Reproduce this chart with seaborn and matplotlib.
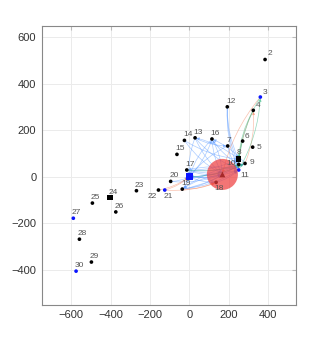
import matplotlib
matplotlib.use("Agg")
import matplotlib.pyplot as plt
import seaborn as sns
import pandas as pd

# node positions (0 = unlabeled hub square at the origin)
node_ids = list(range(0, 31))
node_x = [0, 168, 385, 361, 325, 322, 271, 195, 251, 283, 251, 251, 193, 29, -25,
          -63, 115, -13, 136, -36, -95, -125, -157, -269, -403, -493, -374, -590,
          -559, -498, -576]
node_y = [0, 10, 503, 342, 285, 127, 153, 132, 75, 57, 53, 29, 300, 167, 156,
          96, 162, 29, -24, -53, -20, -57, -57, -60, -90, -113, -151, -178,
          -268, -366, -405]
node_kind = ["hub", "center", "dot", "blue", "dot", "dot", "dot", "dot", "square",
             "dot", "dot", "blue", "dot", "dot", "dot", "dot", "dot", "dot", "dot",
             "dot", "dot", "blue", "dot", "dot", "square", "dot", "dot", "blue",
             "dot", "dot", "blue"]

# flows between nodes
blue_edges = [(12, 8), (12, 11), (12, 10), (13, 1), (13, 11), (13, 7), (14, 8), (14, 1),
              (16, 10), (16, 1), (16, 0), (7, 0), (7, 11), (0, 11), (0, 9), (0, 10),
              (0, 1), (17, 11), (17, 1), (17, 8), (19, 1), (19, 11), (19, 0), (1, 19),
              (20, 0), (20, 1), (18, 0), (0, 18), (10, 19), (11, 17), (8, 13), (9, 16),
              (1, 16), (13, 0), (0, 16), (18, 11), (19, 10), (17, 9)]
orange_edges = [(3, 1), (4, 11), (21, 18), (21, 0), (19, 18), (22, 0), (9, 4)]
green_edges = [(3, 10), (4, 8), (6, 11), (0, 9), (11, 3), (17, 10)]

nodes = pd.DataFrame({"id": node_ids, "x": node_x, "y": node_y, "kind": node_kind})

sns.set_style("white")
plt.rcParams["font.family"] = ["Liberation Sans", "DejaVu Sans"]

fig = plt.figure(figsize=(3.27, 3.43), dpi=100)
ax = fig.add_axes([0.128, 0.111, 0.777, 0.814])

pos = {i: (x, y) for i, x, y in zip(node_ids, node_x, node_y)}
for edges, col in [(blue_edges, "#5b9bff"), (orange_edges, "#f4845f"), (green_edges, "#2cb67d")]:
    for a, b in edges:
        ax.annotate("", xy=pos[b], xytext=pos[a],
                    arrowprops=dict(arrowstyle="-|>", color=col, lw=0.5, alpha=0.5,
                                    mutation_scale=4, shrinkA=1, shrinkB=1,
                                    connectionstyle="arc3,rad=0.12"), zorder=2)

sns.scatterplot(data=nodes, x="x", y="y", hue="kind", style="kind", size="kind",
                palette={"dot": "black", "blue": "#0a14ff", "square": "black",
                         "hub": "#0a14ff", "center": "black"},
                markers={"dot": "o", "blue": "o", "square": "s", "hub": "s", "center": "^"},
                sizes={"dot": 7, "blue": 7, "square": 16, "hub": 22, "center": 18},
                edgecolor="none", legend=False, ax=ax, zorder=3)

# big circle around the center node
sns.scatterplot(data=nodes[nodes["kind"] == "center"], x="x", y="y", s=500,
                color="#ee3b3b", alpha=0.7, edgecolor="none", legend=False,
                ax=ax, zorder=4)

label_style = {2: (2, 2, "left", "bottom"), 5: (2.5, 0, "left", "center"),
               9: (3, 0.5, "left", "center"), 10: (-2, 1, "right", "center"),
               11: (1.5, -1.5, "left", "top"), 18: (-1, -2, "left", "top"),
               21: (-1, -2, "left", "top"), 22: (-1, -2, "right", "top"),
               8: (-1.5, 2.5, "left", "bottom"), 6: (1.5, 1, "left", "bottom"),
               3: (1.5, 1, "left", "bottom"), 4: (1.5, 1, "left", "bottom")}
for i, x, y in zip(node_ids, node_x, node_y):
    if i in (0, 1):
        continue
    dx, dy, ha, va = label_style.get(i, (-1, 1.5, "left", "bottom"))
    ax.annotate(str(i), (x, y), xytext=(dx, dy), textcoords="offset points",
                ha=ha, va=va, fontsize=6, color="#555555", zorder=5)

ax.set_xlim(-750, 542)
ax.set_ylim(-550, 648)
ax.set_xticks([-600, -400, -200, 0, 200, 400])
ax.set_yticks([-400, -200, 0, 200, 400, 600])
ax.set_xticklabels(["\u2212600", "\u2212400", "\u2212200", "0", "200", "400"])
ax.set_yticklabels(["\u2212400", "\u2212200", "0", "200", "400", "600"])
ax.grid(True, color="#ebebeb", lw=0.7)
ax.set_axisbelow(True)
ax.tick_params(direction="in", length=3, width=0.8, color="#bbbbbb", top=True,
               right=True, labelsize=8, labelcolor="#333333", pad=4)
for s in ax.spines.values():
    s.set_color("#888888")
    s.set_linewidth(0.8)
ax.set_xlabel("")
ax.set_ylabel("")

fig.savefig("out.png", dpi=100)
